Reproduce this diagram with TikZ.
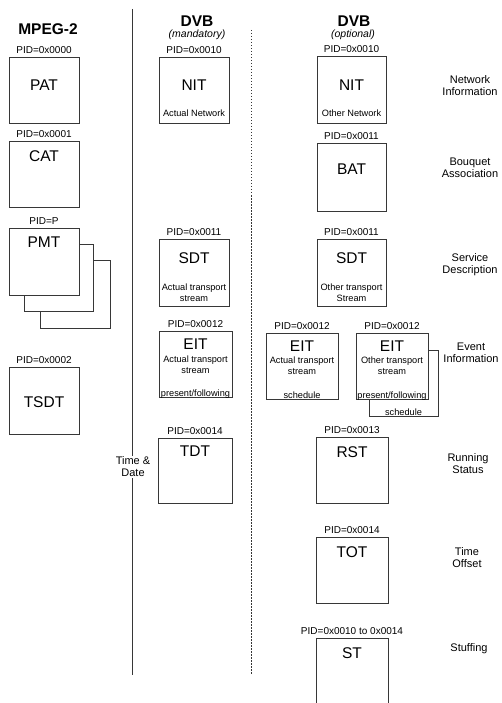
\documentclass[tikz,border=0pt]{standalone}
\usepackage{fontspec}
\setmainfont{Liberation Sans}
\usepackage{xcolor}
\usepackage{tikz}
\usetikzlibrary{positioning}
\definecolor{lineGray}{RGB}{55,55,55}
\tikzset{
  tbl/.style={draw=lineGray,line width=0.8pt,fill=white,inner sep=0pt},
  tname/.style={font=\fontsize{15.5}{17}\selectfont,inner sep=0pt},
  pid/.style={font=\fontsize{10}{11}\selectfont,inner sep=1pt},
  subtxt/.style={font=\fontsize{9.2}{11}\selectfont,align=center,inner sep=0.5pt},
  sidelbl/.style={font=\fontsize{11}{12}\selectfont,align=center},
  hdr/.style={font=\fontsize{15.5}{17}\selectfont\bfseries},
  hnote/.style={font=\fontsize{10.5}{12}\selectfont\itshape},
  sep/.style={lineGray,line width=1pt},
}
\begin{document}
\begin{tikzpicture}[x=1pt,y=-1pt,node distance=2pt]
  \useasboundingbox (0,0) rectangle (501,703);
  % column heads
  \node[hdr] (hmpeg) at (48,29) {MPEG-2};
  \node[hdr] (hdvbm) at (197,21) {DVB};
  \node[hnote] (hmand) at (197,35) {(mandatory)};
  \node[hdr] (hdvbo) at (354,21) {DVB};
  \node[hnote] (hopt) at (353,35) {(optional)};
  % separators
  \coordinate (solTop) at (132,9);
  \coordinate (solBot) at (132,675);
  \coordinate (dotTop) at (251,30);
  \coordinate (dotBot) at (251,675);
  \draw[sep] (solTop) -- (solBot);
  \draw[sep,line width=0.7pt,dash pattern=on 1.5pt off 1.5pt] (dotTop) -- (dotBot);
  % stacked copies behind PMT and EIT
  \node[tbl,minimum width=70pt,minimum height=68pt] (pmt3) at (75,294) {};
  \node[tbl,minimum width=69pt,minimum height=67pt] (pmt2) at (58.5,277.5) {};
  \node[tbl,minimum width=69pt,minimum height=66pt] (eitosh) at (403.5,383) {};
  % tables: name/x/y/width/height/title gap/title/pid
  \foreach \nm/\cx/\cy/\bw/\bh/\gap/\lbl/\pidtxt in {
      pat/44/90/70/66/23.4/PAT/0x0000,
      cat/44/174/70/66/9.4/CAT/0x0001,
      pmt/44/261.5/70/67/9.4/PMT/P,
      tsdt/44/400.5/70/67/29.4/TSDT/0x0002,
      nit/194/90/70/66/23.4/NIT/0x0010,
      sdt/194/272.5/70/67/13.4/SDT/0x0011,
      eit/195.5/364/73/66/8.4/EIT/0x0012,
      tdt/195/470.5/74/65/8.4/TDT/0x0014,
      onit/351.5/90/69/67/23.4/NIT/0x0010,
      bat/351.5/177/69/68/21.4/BAT/0x0011,
      osdt/351.5/272.5/69/67/13.4/SDT/0x0011,
      eita/302/366/72/66/8.4/EIT/0x0012,
      eito/392/366/72/66/8.4/EIT/0x0012,
      rst/352/470/72/66/9.4/RST/0x0013,
      tot/352/570/72/66/9.4/TOT/0x0014,
      st/352/675/72/74/9.4/ST/0x0010 to 0x0014}{
    \node[tbl,minimum width=\bw pt,minimum height=\bh pt] (\nm) at (\cx,\cy) {};
    \node[tname,below=\gap pt of \nm.north] (\nm-t) {\lbl};
    \node[pid,above=of \nm] (\nm-p) {PID=\pidtxt};
  }
  % texts inside the tables
  \node[subtxt] (nit-s) at ([yshift=-23pt]nit.center) {Actual Network};
  \node[subtxt] (onit-s) at ([yshift=-23pt]onit.center) {Other Network};
  \node[subtxt] (sdt-s) at ([yshift=-20.5pt]sdt.center) {Actual transport\\stream};
  \node[subtxt] (osdt-s) at ([yshift=-20.5pt]osdt.center) {Other transport\\Stream};
  \node[subtxt] (eit-s) at ([yshift=-1pt]eit.center) {Actual transport\\stream};
  \node[subtxt] (eita-s) at (eita.center) {Actual transport\\stream};
  \node[subtxt] (eito-s) at (eito.center) {Other transport\\stream};
  \node[subtxt,anchor=base] (eit-pf) at ([yshift=1.2pt]eit.south) {present/following};
  \node[subtxt,anchor=base] (eito-pf) at ([yshift=1.2pt]eito.south) {present/following};
  \node[subtxt,anchor=base] (eita-sc) at ([yshift=1.2pt]eita.south) {schedule};
  \node[subtxt,anchor=base] (eitosh-sc) at ([yshift=1.2pt]eitosh.south) {schedule};
  % time and date on the solid line
  \node[sidelbl,fill=white,inner sep=1pt] (tdlbl) at (133,467) {Time \&\\Date};
  % right-hand descriptions
  \node[sidelbl] (dnet) at (470,86) {Network\\Information};
  \node[sidelbl] (dbouq) at (470,168) {Bouquet\\Association};
  \node[sidelbl] (dserv) at (470,265) {Service\\Description};
  \node[sidelbl] (devent) at (471,353) {Event\\Information};
  \node[sidelbl] (drun) at (468,464) {Running\\Status};
  \node[sidelbl] (dtime) at (467,558) {Time\\Offset};
  \node[sidelbl] (dstuff) at (469,649) {Stuffing};
\end{tikzpicture}
\end{document}
